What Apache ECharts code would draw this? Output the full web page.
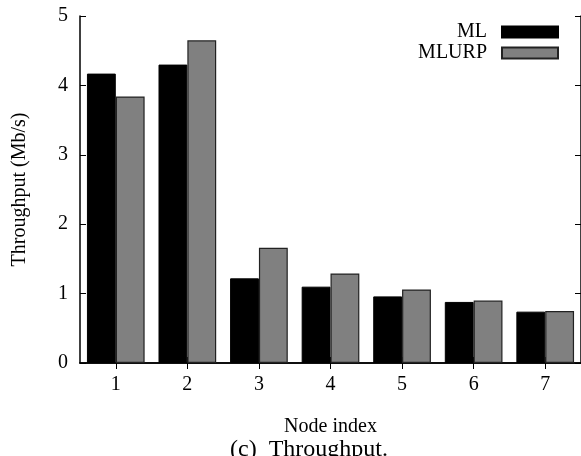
<!DOCTYPE html>
<html>
<head>
<meta charset="utf-8">
<script src="https://cdn.jsdelivr.net/npm/echarts@6/dist/echarts.min.js"></script>
<style>html,body{margin:0;padding:0;background:#fff}#c{width:581px;height:456px}</style>
</head>
<body>
<div id="c"></div>
<script>
const categories = ['1', '2', '3', '4', '5', '6', '7'];
const mlValues = [4.17, 4.30, 1.22, 1.10, 0.96, 0.88, 0.74];
const mlurpValues = [3.84, 4.65, 1.66, 1.29, 1.06, 0.90, 0.75];
const yTicks = { min: 0, max: 5, interval: 1 };

const serif = '"Liberation Serif", "DejaVu Serif", serif';
const chart = echarts.init(document.getElementById('c'), null, { renderer: 'canvas' });
chart.setOption({
  animation: false,
  backgroundColor: '#fff',
  title: {
    text: '(c)  Throughput.',
    left: 230, top: 438,
    padding: 0,
    textStyle: { fontFamily: serif, fontWeight: 'normal', fontSize: 24, color: '#000' }
  },
  legend: [
    {
      data: [{ name: 'ML', icon: 'rect' }], right: 22, top: 22, align: 'right', padding: 0,
      itemWidth: 56, itemHeight: 11, selectedMode: false,
      textStyle: { fontFamily: serif, fontSize: 20, color: '#000', padding: [0, 10, 0, 0] }
    },
    {
      data: [{ name: 'MLURP', icon: 'rect' }], right: 22, top: 43, align: 'right', padding: 0,
      itemWidth: 56, itemHeight: 11, selectedMode: false,
      textStyle: { fontFamily: serif, fontSize: 20, color: '#000', padding: [0, 10, 0, 0] }
    }
  ],
  grid: { left: 80, right: -3, top: 16, bottom: 93, containLabel: false },
  xAxis: [
    {
      type: 'category', data: categories, position: 'bottom',
      name: 'Node index', nameLocation: 'middle', nameGap: 54,
      nameTextStyle: { fontFamily: serif, fontSize: 20, color: '#000' },
      axisLine: { lineStyle: { color: '#000', width: 1.5 } },
      axisTick: { show: true, inside: true, alignWithLabel: true, length: 6, lineStyle: { color: '#000' } },
      axisLabel: { fontFamily: serif, fontSize: 20, color: '#000', margin: 12 },
      splitLine: { show: false }
    },
    {
      type: 'category', data: categories, position: 'top',
      axisLine: { lineStyle: { color: '#000', width: 1.5 } },
      axisTick: { show: true, inside: true, alignWithLabel: true, length: 6, lineStyle: { color: '#000' } },
      axisLabel: { show: false },
      splitLine: { show: false }
    }
  ],
  yAxis: [
    {
      type: 'value', min: yTicks.min, max: yTicks.max, interval: yTicks.interval, position: 'left',
      name: 'Throughput (Mb/s)', nameLocation: 'middle', nameGap: 50,
      nameTextStyle: { fontFamily: serif, fontSize: 20, color: '#000' },
      axisLine: { show: true, lineStyle: { color: '#000', width: 1.5 } },
      axisTick: { show: true, inside: true, length: 6, lineStyle: { color: '#000' } },
      axisLabel: { fontFamily: serif, fontSize: 20, color: '#000', margin: 12 },
      splitLine: { show: false }
    },
    {
      type: 'value', min: yTicks.min, max: yTicks.max, interval: yTicks.interval, position: 'right',
      axisLine: { show: true, lineStyle: { color: '#000', width: 1.5 } },
      axisTick: { show: true, inside: true, length: 6, lineStyle: { color: '#000' } },
      axisLabel: { show: false },
      splitLine: { show: false }
    }
  ],
  series: [
    {
      name: 'ML', type: 'bar', data: mlValues,
      barGap: '0%', barCategoryGap: '19.4%',
      itemStyle: { color: '#000', borderColor: '#000', borderWidth: 1 }
    },
    {
      name: 'MLURP', type: 'bar', data: mlurpValues,
      barGap: '0%', barCategoryGap: '19.4%',
      itemStyle: { color: '#808080', borderColor: '#222', borderWidth: 1.2 }
    }
  ]
});
</script>
</body>
</html>
